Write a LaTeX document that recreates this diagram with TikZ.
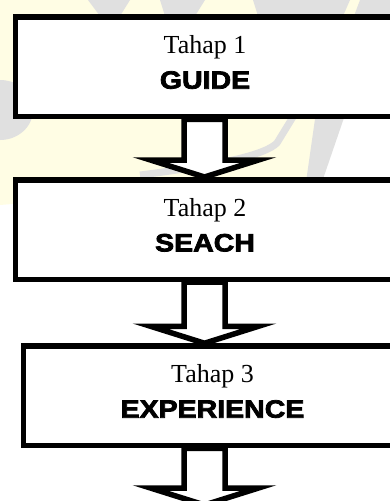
\documentclass[tikz,border=0pt]{standalone}
\usepackage{fontspec}
\setmainfont{Liberation Serif}
\newfontfamily\blackfont[FakeBold=3,FakeStretch=1.14]{Liberation Sans Bold}
\usetikzlibrary{calc}

\definecolor{wmyellow}{RGB}{255,253,228}
\definecolor{wmgrey}{RGB}{224,224,224}

\tikzset{
	stage/.style={draw, line width=5.5pt, fill=white, minimum width=379pt, minimum height=99.5pt, inner sep=0pt},
	stagetext/.style={align=center, inner sep=0pt, font=\fontsize{26}{35}\selectfont},
	blockarrow/.style={draw, line width=5.5pt, fill=white, line join=miter,
		to path={let \p1=(\tikztostart), \p2=(\tikztotarget) in
			(\x1-20.5pt,\y1) -- (\x1-20.5pt,\y2+17pt) -- (\x1-54pt,\y2+17pt) -- (\x2,\y2)
			-- (\x1+54pt,\y2+17pt) -- (\x1+20.5pt,\y2+17pt) -- (\x1+20.5pt,\y1) -- cycle}}
}
\newcommand{\stagename}[1]{{\fontsize{25}{35}\selectfont\blackfont #1}}

\begin{document}
\begin{tikzpicture}[x=1pt,y=-1pt]
	\useasboundingbox (0,0) rectangle (390,501);
	\clip (0,0) rectangle (390,501);

	% faint watermark behind
	\fill[wmyellow] (0,0) -- (360,0) -- (310,180) -- (0,205) -- cycle;
	\fill[wmgrey] (0,110) ellipse (33 and 30);
	\fill[wmgrey] (88,0) -- (130,0) -- (120,16) -- (100,16) -- cycle;
	\fill[wmgrey] (160,0) -- (205,0) -- (195,16) -- (165,16) -- cycle;
	\fill[wmgrey] (253,0) -- (350,0) -- (343,16) -- (258,16) -- cycle;
	\fill[wmgrey] (360,0) -- (390,0) -- (390,16) -- (354,16) -- cycle;
	\fill[wmgrey] (316,112) -- (346,112) -- (322,182) -- (306,182) -- cycle;
	\draw[wmgrey, line width=7pt] (140,175) .. controls (220,165) and (265,155) .. (277,143) -- (296,112);

	\node[stage] (s1) at (205,66.75) {};
	\node[stage] (s2) at (205,229.5) {};
	\node[stage, minimum width=378.4pt] (s3) at (212.5,395.75) {};

	\node[stagetext] (t1) at ([yshift=4.5pt]s1.center) {Tahap 1\\\stagename{GUIDE}};
	\node[stagetext] (t2) at ([yshift=4.5pt]s2.center) {Tahap 2\\\stagename{SEACH}};
	\node[stagetext] (t3) at ([yshift=4.5pt]s3.center) {Tahap 3\\\stagename{EXPERIENCE}};

	\coordinate (axis) at (204.5,0);
	\coordinate (out) at (204.5,505);

	\draw[blockarrow] (axis |- s1.south) to (axis |- s2.north);
	\draw[blockarrow] (axis |- s2.south) to (axis |- s3.north);
	\draw[blockarrow] (axis |- s3.south) to (out);
\end{tikzpicture}
\end{document}
